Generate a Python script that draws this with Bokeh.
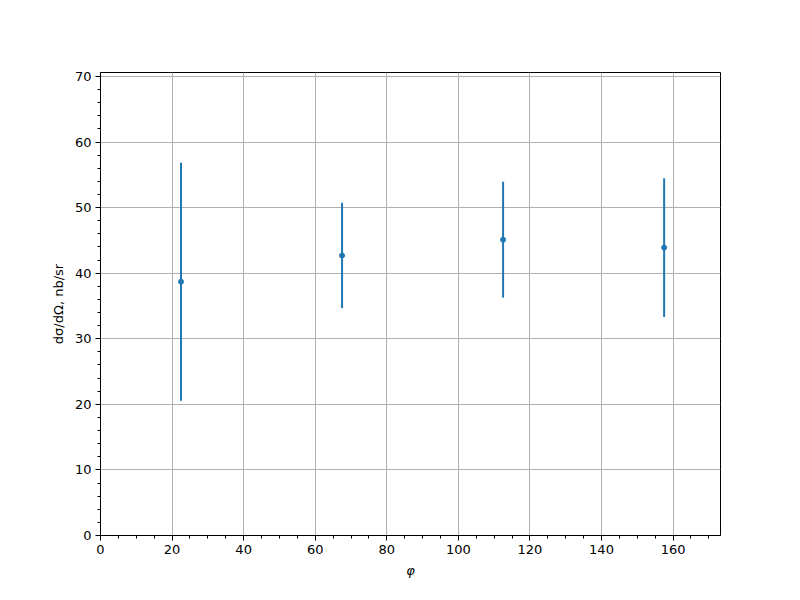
from bokeh.plotting import figure
from bokeh.models import ColumnDataSource, SingleIntervalTicker, Range1d
from bokeh.embed import file_html
from bokeh.resources import INLINE

phi = [22.5, 67.5, 112.5, 157.5]
xsec = [38.7, 42.7, 45.1, 43.9]
xsec_err = [18.15, 8.03, 8.83, 10.57]

lower = [v - e for v, e in zip(xsec, xsec_err)]
upper = [v + e for v, e in zip(xsec, xsec_err)]
src = ColumnDataSource(dict(x=phi, y=xsec, lo=lower, hi=upper))

FONT = "DejaVu Sans"
BLUE = "#1f77b4"

p = figure(width=784, height=584, output_backend="svg", toolbar_location=None,
           x_range=Range1d(0, 173.25), y_range=Range1d(0, 70.6),
           min_border_left=100, min_border_right=64, min_border_top=72, min_border_bottom=49)

p.segment(x0="x", y0="lo", x1="x", y1="hi", source=src, line_color=BLUE, line_width=2)
p.scatter(x="x", y="y", source=src, size=5, fill_color=BLUE, line_color=BLUE)

p.xaxis.ticker = SingleIntervalTicker(interval=20, num_minor_ticks=4)
p.yaxis.ticker = SingleIntervalTicker(interval=10, num_minor_ticks=5)

for ax in (p.xaxis, p.yaxis):
    ax.major_label_text_font = FONT
    ax.major_label_text_font_size = "13px"
    ax.major_label_text_color = "black"
    ax.axis_label_text_font = FONT
    ax.axis_label_text_font_size = "13px"
    ax.axis_label_text_color = "black"
    ax.axis_line_color = "black"
    ax.major_tick_line_color = "black"
    ax.minor_tick_line_color = "black"
    ax.major_tick_in = 0
    ax.major_tick_out = 5
    ax.minor_tick_in = 0
    ax.minor_tick_out = 3
    ax.major_label_standoff = 4
    ax.axis_label_standoff = 6

p.xaxis.axis_label = "φ"
p.xaxis.axis_label_text_font_style = "italic"
p.yaxis.axis_label = "dσ/dΩ, nb/sr"
p.yaxis.axis_label_text_font_style = "normal"

p.xgrid.ticker = p.xaxis.ticker
p.ygrid.ticker = p.yaxis.ticker
for g in (p.xgrid, p.ygrid):
    g.grid_line_color = "#b0b0b0"
    g.grid_line_width = 1

p.outline_line_color = "black"
p.outline_line_width = 1
p.background_fill_color = "white"
p.border_fill_color = "white"

open("out.html", "w").write(file_html(p, INLINE))
